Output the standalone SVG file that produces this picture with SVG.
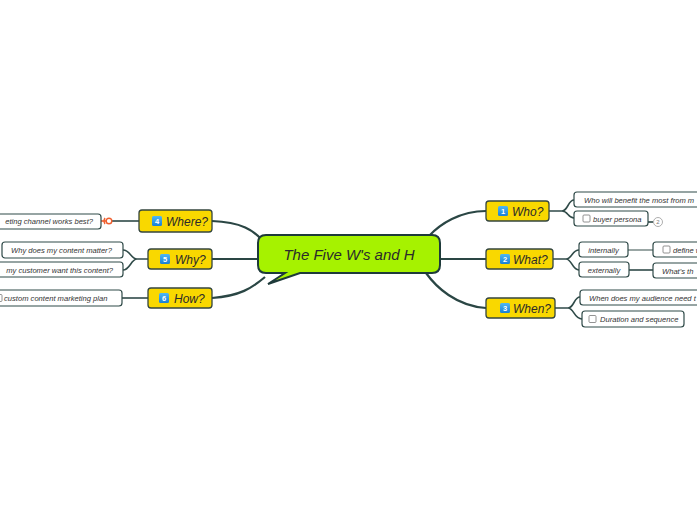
<svg xmlns="http://www.w3.org/2000/svg" width="697" height="520" viewBox="0 0 697 520">
<defs>
<linearGradient id="ic" x1="0" y1="0" x2="0" y2="1"><stop offset="0" stop-color="#4fb8f5"/><stop offset="1" stop-color="#1a7fd4"/></linearGradient>
</defs>
<style>
.main{fill:#f9d800;stroke:#34463e;stroke-width:1.3}
.mt{font-family:"Liberation Sans",Arial,sans-serif;font-style:italic;font-size:12px;fill:#2a2a2a}
.sub{fill:#ffffff;stroke:#2f4a48;stroke-width:1.2}
.st{font-family:"Liberation Sans",Arial,sans-serif;font-style:italic;font-size:7.6px;fill:#333333}
.ic{fill:url(#ic)}
.it{font-family:"Liberation Sans",Arial,sans-serif;font-weight:bold;font-size:7.5px;fill:#ffffff;text-anchor:middle}
.cb{fill:#ffffff;stroke:#777777;stroke-width:0.8}
.c{fill:none;stroke:#2f4a48;stroke-width:1.6}
.cl{fill:none;stroke:#8e9c9a;stroke-width:1.8}
.ct{fill:none;stroke:#2a4644;stroke-width:2.2}
</style>
<rect width="697" height="520" fill="#ffffff"/>
<g id="connectors">
<path class="ct" d="M212,221 C242,222 254,231 262,240"/>
<path class="ct" d="M212,259 L258,259"/>
<path class="ct" d="M212,298 C240,296 252,288 265,277"/>
<path class="ct" d="M486,211 C460,211 440,224 429,236"/>
<path class="ct" d="M486,259 L440,259"/>
<path class="ct" d="M486,308 C456,306 436,287 426,273"/>
<path class="c" d="M549,211 L562,211 C568,211 568,200 574,200 M562,211 C568,211 568,218 574,218"/>
<path class="c" d="M553,259 L566,259 C572,259 572,250 579,250 M566,259 C572,259 572,270 579,270"/>
<path class="c" d="M555,308 L568,308 C574,308 574,297 580,297 M568,308 C574,308 574,319 582,319"/>
<path class="cl" d="M628,250 L653,250"/>
<path class="c" d="M629,270 L653,270"/>
<path class="c" d="M148,259 L137,259 C131,259 130,250 123,250 M137,259 C131,259 130,270 123,270"/>
<path class="c" d="M122,298 L148,298"/>
<path class="c" d="M112,221 L139,221"/>
<path d="M101,221 L106,221" stroke="#f06030" stroke-width="1.6" fill="none"/>
<path d="M105,218 Q103,221 105,224" stroke="#f06030" stroke-width="1.4" fill="none"/>
<circle cx="109" cy="221" r="2.8" fill="#ffffff" stroke="#f06030" stroke-width="1.4"/>
<path class="c" d="M648,222 L653,222" stroke-width="1"/>
</g>
<g id="central">
<path d="M266,235 L432,235 Q440,235 440,243 L440,265 Q440,273 432,273 L300,273 L268,284 L285,273 L266,273 Q258,273 258,265 L258,243 Q258,235 266,235 Z" fill="#a6f200" stroke="#1e3a3a" stroke-width="2"/>
<text x="349" y="260" text-anchor="middle" font-family="Liberation Sans,Arial,sans-serif" font-style="italic" font-size="15px" fill="#2a2a2a">The Five W's and H</text>
</g>
<g id="where">
<rect class="main" x="139" y="210" width="73" height="22" rx="3"/>
<rect class="ic" x="152" y="216" width="10" height="10" rx="1.5"/><text class="it" x="157" y="224">4</text>
<text class="mt" x="166" y="225.5">Where?</text>
</g>
<g id="why">
<rect class="main" x="148" y="249" width="64" height="20" rx="3"/>
<rect class="ic" x="160" y="254" width="10" height="10" rx="1.5"/><text class="it" x="165" y="262">5</text>
<text class="mt" x="175" y="263.5">Why?</text>
</g>
<g id="how">
<rect class="main" x="148" y="288" width="64" height="20" rx="3"/>
<rect class="ic" x="159" y="293" width="10" height="10" rx="1.5"/><text class="it" x="164" y="301">6</text>
<text class="mt" x="174" y="302.5">How?</text>
</g>
<g id="who">
<rect class="main" x="486" y="201" width="63" height="20" rx="3"/>
<rect class="ic" x="498" y="206" width="10" height="10" rx="1.5"/><text class="it" x="503" y="214">1</text>
<text class="mt" x="512" y="215.5">Who?</text>
</g>
<g id="what">
<rect class="main" x="486" y="249" width="67" height="20" rx="3"/>
<rect class="ic" x="500" y="254" width="10" height="10" rx="1.5"/><text class="it" x="505" y="262">2</text>
<text class="mt" x="513" y="263.5">What?</text>
</g>
<g id="when">
<rect class="main" x="486" y="298" width="69" height="20" rx="3"/>
<rect class="ic" x="500" y="303" width="10" height="10" rx="1.5"/><text class="it" x="505" y="311">3</text>
<text class="mt" x="513" y="312.5">When?</text>
</g>
<g id="where-child">
<rect class="sub" x="-6" y="214" width="107" height="15" rx="3"/>
<text class="st" x="93" y="224" text-anchor="end">eting channel works best?</text>
</g>
<g id="why-child1">
<rect class="sub" x="2" y="242" width="121" height="16" rx="3"/>
<text class="st" x="11" y="253">Why does my content matter?</text>
</g>
<g id="why-child2">
<rect class="sub" x="-6" y="262" width="129" height="15" rx="3"/>
<text class="st" x="113" y="272.5" text-anchor="end">my customer want this content?</text>
</g>
<g id="how-child">
<rect class="sub" x="-6" y="290" width="128" height="16" rx="3"/>
<rect class="cb" x="-5" y="294.5" width="7" height="7" rx="1"/>
<text class="st" x="4" y="301">custom content marketing plan</text>
</g>
<g id="who-child1">
<rect class="sub" x="574" y="192" width="130" height="15" rx="3"/>
<text class="st" x="584" y="202.5">Who will benefit the most from m</text>
</g>
<g id="buyer-persona">
<rect class="sub" x="574" y="211" width="74" height="15" rx="3"/>
<rect class="cb" x="583" y="215" width="7" height="7" rx="1"/>
<text class="st" x="593" y="221.5">buyer persona</text>
</g>
<g id="badge">
<circle cx="658" cy="222" r="4.5" fill="#ffffff" stroke="#999999" stroke-width="0.8"/>
<text x="658" y="224.3" text-anchor="middle" font-family="Liberation Sans,Arial,sans-serif" font-size="6px" fill="#777777">2</text>
</g>
<g id="internally">
<rect class="sub" x="579" y="242" width="49" height="15" rx="3"/>
<text class="st" x="603.5" y="252.5" text-anchor="middle">internally</text>
</g>
<g id="externally">
<rect class="sub" x="579" y="262" width="50" height="15" rx="3"/>
<text class="st" x="604" y="272.5" text-anchor="middle">externally</text>
</g>
<g id="define">
<rect class="sub" x="653" y="242" width="60" height="15" rx="3"/>
<rect class="cb" x="663" y="246" width="7" height="7" rx="1"/>
<text class="st" x="673" y="252.5">define w</text>
</g>
<g id="whats">
<rect class="sub" x="653" y="263" width="60" height="15" rx="3"/>
<text class="st" x="662" y="273.5">What's th</text>
</g>
<g id="when-child1">
<rect class="sub" x="580" y="290" width="130" height="15" rx="3"/>
<text class="st" x="589" y="300.5">When does my audience need t</text>
</g>
<g id="duration">
<rect class="sub" x="582" y="311" width="102" height="16" rx="3"/>
<rect class="cb" x="589" y="315.5" width="7" height="7" rx="1"/>
<text class="st" x="600" y="322">Duration and sequence</text>
</g>
</svg>
